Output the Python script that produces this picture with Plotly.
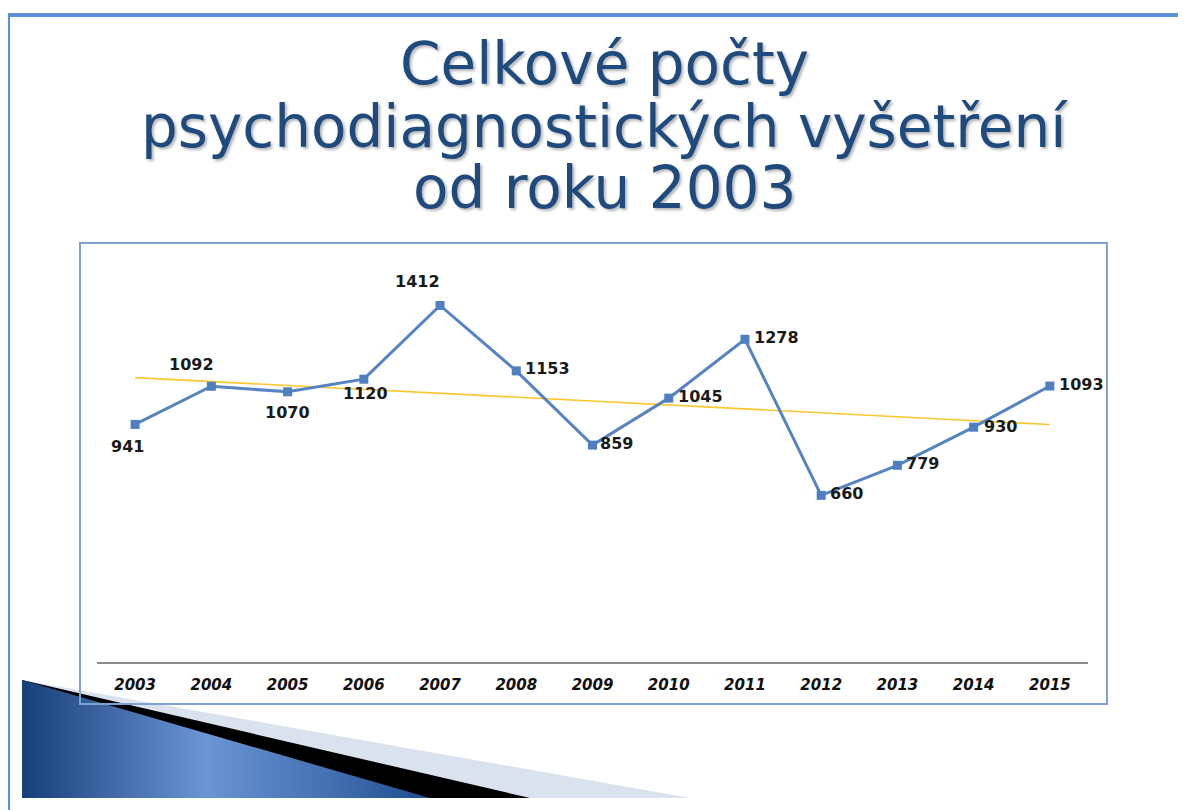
import numpy as np
import plotly.graph_objects as go

# data
roky = ['2003', '2004', '2005', '2006', '2007', '2008', '2009',
        '2010', '2011', '2012', '2013', '2014', '2015']
pocty = [941, 1092, 1070, 1120, 1412, 1153, 859, 1045, 1278, 660, 779, 930, 1093]

titulek = ['Celkové počty', 'psychodiagnostických vyšetření', 'od roku 2003']

# the page puts the figure 8 px from the top-left corner
OFF = 8
W, H = 1186 - OFF, 810 - OFF


def fx(x):
    return (x - OFF) / W


def fy(y):
    return 1 - (y - OFF) / H


# linear trend (same as the Excel trendline)
idx = np.arange(len(pocty))
k, q = np.polyfit(idx, pocty, 1)
trend = k * idx + q

fig = go.Figure()

fig.add_trace(go.Scatter(
    x=roky, y=trend, mode='lines',
    line=dict(color='#fcc72c', width=1.6),
    hoverinfo='skip', showlegend=False))

fig.add_trace(go.Scatter(
    x=roky, y=pocty, mode='lines+markers',
    line=dict(color='#5583c4', width=3),
    marker=dict(symbol='square', size=9, color='#4f7fc0'),
    showlegend=False))

# data labels - offsets in px (x shift, y shift, anchor)
posuny = [(-8, -22, 'center'), (-20, 22, 'center'), (0, -21, 'center'),
          (2, -14, 'center'), (-23, 24, 'center'), (7, 2, 'left'),
          (5, 2, 'left'), (7, 2, 'left'), (7, 2, 'left'), (7, 2, 'left'),
          (7, 2, 'left'), (8, 1, 'left'), (7, 2, 'left')]

for i, (val, (dx, dy, anch)) in enumerate(zip(pocty, posuny)):
    fig.add_annotation(
        x=i, y=val, xref='x', yref='y', text=str(val), showarrow=False,
        xshift=dx, yshift=dy, xanchor=anch,
        font=dict(family='DejaVu Sans', size=16, weight='bold', color='#1a1a1a'))

# title lines
for txt, py in zip(titulek, [64, 127, 188]):
    fig.add_annotation(
        x=fx(604), y=fy(py), xref='paper', yref='paper', text=txt,
        showarrow=False, xanchor='center', yanchor='middle',
        font=dict(family='DejaVu Sans', size=58, color='#1f4a7e',
                  shadow='2px 2px 3px rgba(0,0,0,0.3)'))

# slide decoration bottom left (pixel coordinates on a hidden full-page axis)
fig.add_trace(go.Scatter(
    x=[22, 690, 22, 22], y=[680, 798, 798, 680], mode='lines', fill='toself',
    fillcolor='#dbe2ef', line=dict(width=0), xaxis='x2', yaxis='y2',
    hoverinfo='skip', showlegend=False))
fig.add_trace(go.Scatter(
    x=[22, 530, 22, 22], y=[680, 798, 798, 680], mode='lines', fill='toself',
    fillcolor='#000000', line=dict(width=0), xaxis='x2', yaxis='y2',
    hoverinfo='skip', showlegend=False))
fig.add_trace(go.Scatter(
    x=[22, 430, 22, 22], y=[680, 798, 798, 680], mode='lines', fill='toself',
    fillgradient=dict(type='horizontal',
                      colorscale=[[0, '#173f7a'], [0.45, '#6b95d3'],
                                  [0.8, '#3d6aab'], [1, '#1e4c8c']]),
    line=dict(width=0), xaxis='x2', yaxis='y2',
    hoverinfo='skip', showlegend=False))

# slide frame lines and chart box
fig.add_shape(type='line', xref='paper', yref='paper',
              x0=0, x1=1, y0=fy(15), y1=fy(15),
              line=dict(color='#5b8fd6', width=4))
fig.add_shape(type='line', xref='paper', yref='paper',
              x0=1 / W, x1=1 / W, y0=fy(13), y1=0,
              line=dict(color='#5b8fd6', width=2))
fig.add_shape(type='rect', xref='paper', yref='paper',
              x0=fx(80), x1=fx(1107), y0=fy(704), y1=fy(243),
              line=dict(color='#7fa0d3', width=2))

fig.update_layout(
    width=W, height=H,
    margin=dict(l=0, r=0, t=0, b=0),
    paper_bgcolor='white', plot_bgcolor='rgba(0,0,0,0)',
    xaxis=dict(type='category', domain=[fx(97), fx(1088)],
               range=[-0.5, len(roky) - 0.5],
               showgrid=False, zeroline=False,
               showline=True, linecolor='#8c8c8c', linewidth=1.5,
               ticks='', ticklabelstandoff=8,
               tickfont=dict(family='DejaVu Sans', size=15, style='italic',
                             weight='bold', color='#111111')),
    yaxis=dict(domain=[fy(662), fy(258)], range=[0, 1600],
               showgrid=False, zeroline=False, showticklabels=False),
    xaxis2=dict(domain=[0, 1], range=[OFF, OFF + W], visible=False, anchor='y2'),
    yaxis2=dict(domain=[0, 1], range=[OFF + H, OFF], visible=False, anchor='x2'),
)

fig.write_html("out.html")
